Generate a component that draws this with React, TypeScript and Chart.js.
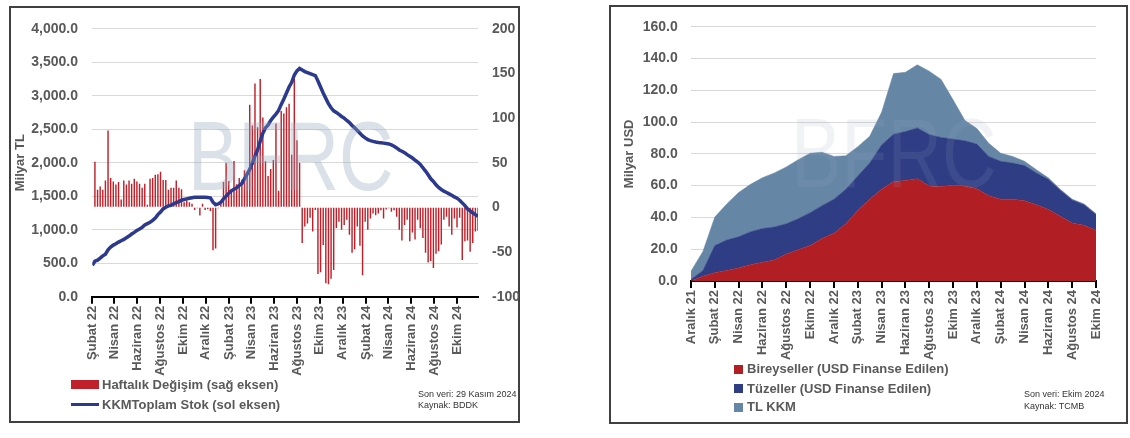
import React, { useEffect, useRef } from "react";
import { Chart, registerables } from "chart.js";

Chart.register(...registerables);

const FONT = "'Liberation Sans', Arial, sans-serif";
const AXIS_TEXT = "#595959";

// ---------- Left chart data (weekly, Feb 2022 - 29 Nov 2024) ----------
const leftTickLabels = [
  "Şubat 22", "Nisan 22", "Haziran 22", "Ağustos 22", "Ekim 22", "Aralık 22",
  "Şubat 23", "Nisan 23", "Haziran 23", "Ağustos 23", "Ekim 23", "Aralık 23",
  "Şubat 24", "Nisan 24", "Haziran 24", "Ağustos 24", "Ekim 24",
];

// Haftalık Değişim (sağ eksen), weeks 1..147
const weeklyChange = [
  51, 19.7, 23.4, 19.7, 30, 86, 33, 29, 25.5, 28.5,
  8.8, 30, 25.5, 30, 26.3, 32, 29, 26.3, 22, 26.3,
  3, 32, 33, 36.5, 37, 40, 30.7, 30.7, 19.7, 22,
  22, 30, 22, 20.4, 5.8, 7.7,
  5.8, 4, -3, -1, -9, 4, -3, -2, -4, -48, -46, -1, 6,
  28.5, 49.6, 29.6, 20, 52, 26, 33, 31, 41.6, 38.7,
  115, 91.6, 138.7, 89.8, 143.8, 100.7, 51.5, 35, 43, 53, 94, 18.6,
  108, 105, 112, 116, 59, 144, 75, 50,
  -39.8, -21.5, -18, -11.7, -27, -3, -74.5, -72.6, -42, -85, -86, -80, -70, -23,
  -16, -25, -19.7, -14, -30.7, -50.7, -47, -21.5, -43, -76, -16, -25, -12.4, -7, -8.8, -7, -3.3,
  -12.4, -2.5, -1, -5, -3.3, -10.6, -25, -37, -19.7, -14, -38, -28, -36, -14, -23.4, -34.3,
  -50.7, -61.7, -60, -68, -52, -49, -41.6, -14, -10.6, -21.5, -30.7, -12.4, -22.6, -11.7,
  -59, -38, -37, -49.6, -39.8, -27, -26.3,
];

// KKM Toplam Stok (sol eksen), weeks 0..147
const kkmStock = [
  470, 530, 545, 575, 610, 635, 700, 740, 770, 790,
  815, 835, 855, 880, 905, 935, 960, 990, 1010, 1035,
  1070, 1090, 1110, 1140, 1175, 1225, 1265, 1310, 1335, 1355,
  1365, 1385, 1405, 1420, 1440, 1450, 1460, 1470, 1478, 1484,
  1486, 1485, 1484, 1483, 1480, 1475, 1410, 1372, 1385, 1410,
  1460, 1500, 1545, 1580, 1605, 1625, 1660, 1690, 1760, 1830,
  1900, 1995, 2100, 2190, 2320, 2440, 2520, 2565, 2630, 2680,
  2725, 2780, 2870, 2950, 3040, 3130, 3200, 3310, 3370, 3406,
  3385, 3360, 3345, 3330, 3315, 3300, 3220, 3130, 3040, 2960,
  2880, 2820, 2774, 2750, 2720, 2690, 2665, 2630, 2600, 2555,
  2520, 2480, 2440, 2400, 2370, 2345, 2330, 2318, 2310, 2303,
  2298, 2292, 2286, 2280, 2265, 2245, 2220, 2190, 2170, 2150,
  2120, 2095, 2070, 2040, 2010, 1975, 1925, 1875, 1820, 1760,
  1720, 1670, 1630, 1600, 1575, 1555, 1535, 1515, 1490, 1470,
  1440, 1400, 1360, 1310, 1280, 1250, 1225, 1200,
];

// ---------- Right chart data (monthly, Aralık 21 - Ekim 24) ----------
const monthLabels = [
  "Aralık 21", "Ocak 22", "Şubat 22", "Mart 22", "Nisan 22", "Mayıs 22", "Haziran 22",
  "Temmuz 22", "Ağustos 22", "Eylül 22", "Ekim 22", "Kasım 22", "Aralık 22",
  "Ocak 23", "Şubat 23", "Mart 23", "Nisan 23", "Mayıs 23", "Haziran 23", "Temmuz 23",
  "Ağustos 23", "Eylül 23", "Ekim 23", "Kasım 23", "Aralık 23",
  "Ocak 24", "Şubat 24", "Mart 24", "Nisan 24", "Mayıs 24", "Haziran 24", "Temmuz 24",
  "Ağustos 24", "Eylül 24", "Ekim 24",
];

const bireysel = [
  0, 3, 5.2, 6.6, 8.2, 10.3, 11.8, 13.2, 17, 19.6, 22.3, 26.8, 30, 36, 44.3, 51.5,
  57.7, 62.5, 63.3, 64.3, 59.8, 59.4, 60.2, 59.8, 58.1, 53.6, 51.5, 51.5, 50.5, 48,
  45, 40.8, 36.5, 35, 32,
];
const tuzel = [
  1, 3.6, 17.1, 19.2, 19.6, 20.7, 21.2, 20.8, 19, 19.6, 20.7, 20.6, 21.5, 21.7, 21.7,
  22.7, 27.9, 29.9, 30.7, 32, 32.4, 30.9, 29.1, 28.4, 28.1, 24.8, 23.8, 22.7, 22.1,
  20, 19, 16.3, 14.5, 13, 9.9,
];
const tlKkm = [
  5.2, 12, 17.9, 22.7, 27.9, 29.8, 32, 34, 35.8, 37.1, 37.4, 33.6, 26.9, 21.1, 18.5,
  16.8, 20.5, 38.1, 37.3, 39.7, 39.8, 36.5, 24.7, 12.8, 9.8, 8.2, 5.1, 4.2, 2.7, 2,
  0.9, 0.6, 0.5, 0.5, 0.4,
];

const fmt1 = new Intl.NumberFormat("en-US", { minimumFractionDigits: 1, maximumFractionDigits: 1 });

function LeftChart() {
  const ref = useRef<HTMLCanvasElement>(null);
  useEffect(() => {
    const start = Date.UTC(2022, 1, 4);
    const tickWeeks = leftTickLabels.map((_, k) => (Date.UTC(2022, 1 + 2 * k, 4) - start) / (7 * 86400000));
    const chart = new Chart(ref.current as HTMLCanvasElement, {
      type: "bar",
      data: {
        datasets: [
          {
            type: "line",
            label: "KKMToplam Stok (sol eksen)",
            data: kkmStock.map((v, i) => ({ x: i, y: v })),
            xAxisID: "x",
            yAxisID: "y",
            borderColor: "#2b3a8f",
            borderWidth: 3.5,
            pointRadius: 0,
            tension: 0,
            order: 0,
          } as any,
          {
            type: "bar",
            label: "Haftalık Değişim (sağ eksen)",
            data: weeklyChange.map((v, i) => ({ x: i + 1, y: v })),
            xAxisID: "x",
            yAxisID: "y1",
            backgroundColor: "#c0202a",
            barPercentage: 0.55,
            categoryPercentage: 1,
            order: 1,
          } as any,
        ],
      },
      options: {
        responsive: false,
        animation: false,
        devicePixelRatio: 1,
        layout: { padding: { top: 16.7, left: 0, right: 0, bottom: 0 } },
        plugins: { legend: { display: false }, tooltip: { enabled: false } },
        scales: {
          x: {
            type: "linear",
            min: 0,
            max: 147,
            offset: false,
            afterBuildTicks: (axis: any) => {
              axis.ticks = tickWeeks.map((v) => ({ value: v }));
            },
            ticks: {
              autoSkip: false,
              minRotation: 90,
              maxRotation: 90,
              padding: 2,
              color: AXIS_TEXT,
              font: { family: FONT, size: 13, weight: "bold" },
              callback: (_v: any, i: number) => leftTickLabels[i],
            },
            grid: { drawOnChartArea: false, drawTicks: true, tickLength: 7, color: "#000", lineWidth: 2, offset: false },
            border: { display: true, color: "#000", width: 2 },
            afterFit: (s: any) => { s.height = 125.3; },
          } as any,
          y: {
            position: "left",
            min: 0,
            max: 4000,
            ticks: {
              stepSize: 500,
              padding: 14.3,
              color: AXIS_TEXT,
              font: { family: FONT, size: 14, weight: "bold" },
              callback: (v: any) => fmt1.format(Number(v)),
            },
            grid: { color: "#d9d9d9", lineWidth: 1, drawTicks: false },
            border: { display: false },
            title: {
              display: true,
              text: "Milyar TL",
              color: AXIS_TEXT,
              font: { family: FONT, size: 13, weight: "bold" },
              padding: { top: 4, bottom: 0 },
            },
            afterFit: (s: any) => { s.width = 83.3; },
          } as any,
          y1: {
            position: "right",
            min: -100,
            max: 200,
            ticks: {
              stepSize: 50,
              padding: 14,
              color: AXIS_TEXT,
              font: { family: FONT, size: 14, weight: "bold" },
              callback: (v: any) => String(v),
            },
            grid: { drawOnChartArea: false, drawTicks: false },
            border: { display: false },
            afterFit: (s: any) => { s.width = 41; },
          } as any,
        },
      },
    });
    return () => chart.destroy();
  }, []);
  return (
    <canvas
      ref={ref}
      width={510}
      height={416}
      style={{ position: "absolute", left: 9, top: 6, width: 510, height: 416 }}
    />
  );
}

function RightChart() {
  const ref = useRef<HTMLCanvasElement>(null);
  useEffect(() => {
    const chart = new Chart(ref.current as HTMLCanvasElement, {
      type: "line",
      data: {
        labels: monthLabels,
        datasets: [
          {
            label: "Bireyseller (USD Finanse Edilen)",
            data: bireysel,
            backgroundColor: "#b11f24",
            borderColor: "#b11f24",
            borderWidth: 0.5,
            fill: "origin",
            pointRadius: 0,
            tension: 0,
          },
          {
            label: "Tüzeller (USD Finanse Edilen)",
            data: tuzel,
            backgroundColor: "#2e3d84",
            borderColor: "#2e3d84",
            borderWidth: 0.5,
            fill: "-1",
            pointRadius: 0,
            tension: 0,
          },
          {
            label: "TL KKM",
            data: tlKkm,
            backgroundColor: "#6686a6",
            borderColor: "#6686a6",
            borderWidth: 0.5,
            fill: "-1",
            pointRadius: 0,
            tension: 0,
          },
        ],
      },
      options: {
        responsive: false,
        animation: false,
        devicePixelRatio: 1,
        layout: { padding: { top: 16.3, left: 0, right: 31, bottom: 0 } },
        plugins: { legend: { display: false }, tooltip: { enabled: false } },
        scales: {
          x: {
            offset: false,
            ticks: {
              autoSkip: false,
              minRotation: 90,
              maxRotation: 90,
              padding: 2,
              color: AXIS_TEXT,
              font: { family: FONT, size: 13, weight: "bold" },
              callback: (_v: any, i: number) => (i % 2 === 0 ? monthLabels[i] : ""),
            },
            grid: {
              drawOnChartArea: false,
              drawTicks: true,
              tickLength: 7,
              lineWidth: 2,
              color: (ctx: any) => (ctx.index % 2 === 0 ? "#000" : "rgba(0,0,0,0)"),
            },
            border: { display: true, color: "#000", width: 2 },
            afterFit: (s: any) => { s.height = 142; },
          } as any,
          y: {
            stacked: true,
            min: 0,
            max: 160,
            ticks: {
              stepSize: 20,
              padding: 13.3,
              color: AXIS_TEXT,
              font: { family: FONT, size: 14, weight: "bold" },
              callback: (v: any) => fmt1.format(Number(v)),
            },
            grid: { color: "#d9d9d9", lineWidth: 1, drawTicks: false },
            border: { display: false },
            title: {
              display: true,
              text: "Milyar USD",
              color: AXIS_TEXT,
              font: { family: FONT, size: 13, weight: "bold" },
              padding: { top: 13.6, bottom: 0 },
            },
            afterFit: (s: any) => { s.width = 83; },
          } as any,
        },
      },
    });
    return () => chart.destroy();
  }, []);
  return (
    <canvas
      ref={ref}
      width={519}
      height={418}
      style={{ position: "absolute", left: 608, top: 5, width: 519, height: 418 }}
    />
  );
}

const legendText: React.CSSProperties = {
  position: "absolute",
  fontFamily: FONT,
  fontWeight: "bold",
  fontSize: 13,
  color: AXIS_TEXT,
  height: 20,
  lineHeight: "20px",
  whiteSpace: "nowrap",
};

const noteText: React.CSSProperties = {
  position: "absolute",
  fontFamily: FONT,
  fontSize: 9,
  color: "#333",
  height: 12,
  lineHeight: "12px",
  whiteSpace: "nowrap",
};

const watermark: React.CSSProperties = {
  position: "absolute",
  fontFamily: FONT,
  fontSize: 98,
  lineHeight: "98px",
  height: 98,
  color: "rgba(150,166,188,0.34)",
  transform: "scaleX(0.77)",
  transformOrigin: "left top",
  whiteSpace: "nowrap",
  pointerEvents: "none",
};

export default function App() {
  return (
    <div style={{ position: "absolute", left: 0, top: 0, width: 1130, height: 438, background: "#fff", overflow: "hidden" }}>
      {/* Left panel */}
      <div style={{ position: "absolute", left: 9, top: 6, width: 511, height: 417, border: "2px solid #404040", boxSizing: "border-box" }} />
      <LeftChart />
      <div style={{ ...watermark, left: 188, top: 107 }}>BFRC</div>
      <div style={{ position: "absolute", left: 71, top: 380, width: 28, height: 9, background: "#c0202a" }} />
      <div style={{ ...legendText, left: 102, top: 374.5 }}>Haftalık Değişim (sağ eksen)</div>
      <div style={{ position: "absolute", left: 71, top: 402.5, width: 28, height: 3.5, background: "#2b3a8f" }} />
      <div style={{ ...legendText, left: 102, top: 394.5 }}>KKMToplam Stok (sol eksen)</div>
      <div style={{ ...noteText, left: 418, top: 388 }}>Son veri: 29 Kasım 2024</div>
      <div style={{ ...noteText, left: 418, top: 399 }}>Kaynak: BDDK</div>

      {/* Right panel */}
      <div style={{ position: "absolute", left: 609, top: 5, width: 519, height: 419, border: "2px solid #404040", boxSizing: "border-box" }} />
      <RightChart />
      <div style={{ ...watermark, left: 791, top: 104, color: "rgba(150,166,188,0.14)" }}>BFRC</div>
      <div style={{ position: "absolute", left: 734, top: 364.5, width: 9, height: 9, background: "#b11f24" }} />
      <div style={{ ...legendText, left: 747, top: 359 }}>Bireyseller (USD Finanse Edilen)</div>
      <div style={{ position: "absolute", left: 734, top: 384, width: 9, height: 9, background: "#2e3d84" }} />
      <div style={{ ...legendText, left: 747, top: 378.5 }}>Tüzeller (USD Finanse Edilen)</div>
      <div style={{ position: "absolute", left: 734, top: 402.5, width: 9, height: 9, background: "#6686a6" }} />
      <div style={{ ...legendText, left: 747, top: 397 }}>TL KKM</div>
      <div style={{ ...noteText, left: 1024, top: 388 }}>Son veri: Ekim 2024</div>
      <div style={{ ...noteText, left: 1024, top: 399.5 }}>Kaynak: TCMB</div>
    </div>
  );
}
